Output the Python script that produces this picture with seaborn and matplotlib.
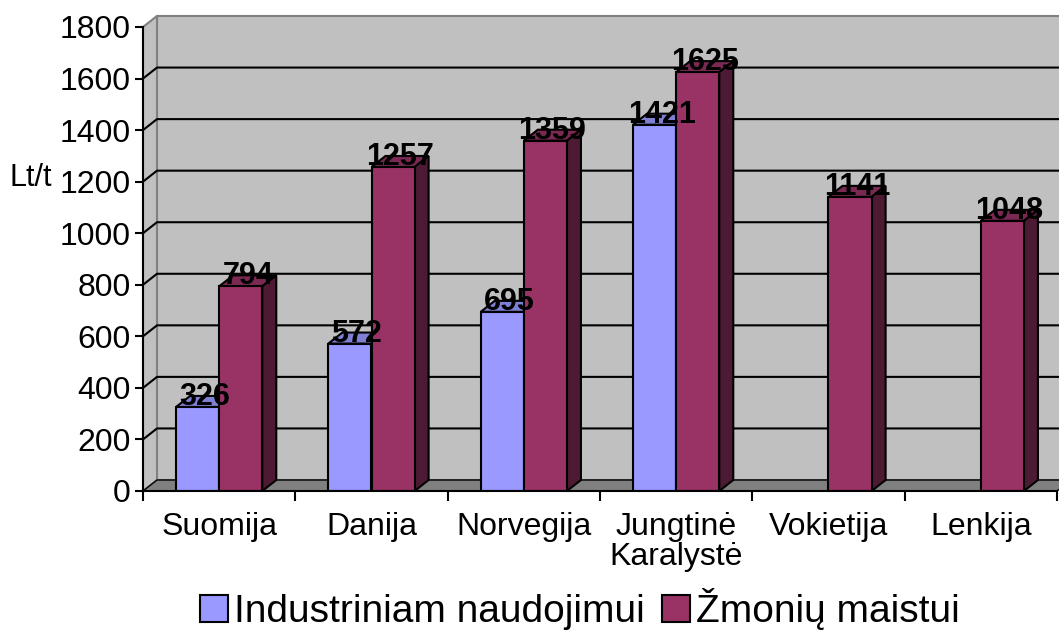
import numpy as np
import pandas as pd
import seaborn as sns
import matplotlib
matplotlib.use("Agg")
import matplotlib.pyplot as plt
from matplotlib.patches import Polygon, Patch

# data
categories = ["Suomija", "Danija", "Norvegija", "Jungtinė\nKaralystė", "Vokietija", "Lenkija"]
industrial = [326, 572, 695, 1421, np.nan, np.nan]
food = [794, 1257, 1359, 1625, 1141, 1048]
series_names = ["Industriniam naudojimui", "Žmonių maistui"]
y_ticks = [0, 200, 400, 600, 800, 1000, 1200, 1400, 1600, 1800]

front_colors = ["#9999FF", "#993366"]
top_colors = ["#7F7FD4", "#7A2952"]
side_colors = ["#4D4D80", "#4D1A33"]

df = pd.DataFrame({"Šalis": categories, series_names[0]: industrial, series_names[1]: food})
long_df = df.melt(id_vars="Šalis", var_name="serija", value_name="Lt/t").dropna()

sns.set_theme(style="white")
plt.rcParams["font.family"] = ["Liberation Sans", "DejaVu Sans"]
plt.rcParams["text.color"] = "black"
plt.rcParams["xtick.color"] = "black"
plt.rcParams["ytick.color"] = "black"
plt.rcParams["xtick.labelcolor"] = "black"
plt.rcParams["ytick.labelcolor"] = "black"

W, H = 1059, 631
fig = plt.figure(figsize=(W / 100, H / 100), dpi=100)
ax = fig.add_axes([143 / W, 1 - 491 / H, (1057 - 143) / W, (491 - 27) / H])

sns.barplot(data=long_df, x="Šalis", y="Lt/t", hue="serija", order=categories,
            hue_order=series_names, palette=front_colors, saturation=1,
            width=0.566, gap=0, edgecolor="black", linewidth=1.5,
            legend=False, ax=ax)

xmin, xmax = -0.5, len(categories) - 0.5
ymin, ymax = 0, 1800
ax.set_xlim(xmin, xmax)
ax.set_ylim(ymin, ymax)
ax.set_facecolor("none")

# depth of the pseudo 3D look, in pixels -> data units
depth_px_x, depth_px_y = 14, 11
ax_w_px = (1057 - 143)
ax_h_px = (491 - 27)
dx = depth_px_x * (xmax - xmin) / ax_w_px
dy = depth_px_y * (ymax - ymin) / ax_h_px

wall = "#C0C0C0"
wall_edge = "#808080"
# back wall
ax.add_patch(Polygon([(xmin + dx, dy), (xmax + dx, dy), (xmax + dx, ymax + dy), (xmin + dx, ymax + dy)],
                     closed=True, facecolor=wall, edgecolor=wall_edge, lw=1.5, zorder=0, clip_on=False))
# left wall
ax.add_patch(Polygon([(xmin, 0), (xmin + dx, dy), (xmin + dx, ymax + dy), (xmin, ymax)],
                     closed=True, facecolor=wall, edgecolor=wall_edge, lw=1.5, zorder=0, clip_on=False))
# floor
ax.add_patch(Polygon([(xmin, 0), (xmax, 0), (xmax + dx, dy), (xmin + dx, dy)],
                     closed=True, facecolor="#808080", edgecolor="black", lw=1.0, zorder=0.5, clip_on=False))
# gridlines on the walls
for v in y_ticks[1:-1]:
    ax.plot([xmin, xmin + dx, xmax + dx], [v, v + dy, v + dy], color="black", lw=1.5,
            zorder=0.6, clip_on=False)

# extrude bars
bars = [p for p in ax.patches if hasattr(p, "get_width") and not isinstance(p, Polygon)]
bars = [p for p in bars if np.isfinite(p.get_height()) and p.get_height() > 0]
bars.sort(key=lambda p: p.get_x())
for i, p in enumerate(bars):
    x0 = p.get_x()
    x1 = x0 + p.get_width()
    h = p.get_height()
    k = 0 if p.get_facecolor()[2] > 0.9 else 1
    z = 3 + 2 * i
    p.set_zorder(z + 1)
    ax.add_patch(Polygon([(x0, h), (x1, h), (x1 + dx, h + dy), (x0 + dx, h + dy)], closed=True,
                         facecolor=top_colors[k], edgecolor="black", lw=1.5, zorder=z, clip_on=False))
    ax.add_patch(Polygon([(x1, 0), (x1 + dx, dy), (x1 + dx, h + dy), (x1, h)], closed=True,
                         facecolor=side_colors[k], edgecolor="black", lw=1.5, zorder=z, clip_on=False))
    ax.annotate(f"{h:.0f}", xy=((x0 + x1) / 2, h), xytext=(depth_px_x / 2, 2),
                textcoords="offset pixels", ha="center", va="baseline",
                fontsize=22, fontweight="bold", color="black", zorder=200, annotation_clip=False)

# axes lines and ticks
for s in ["top", "right"]:
    ax.spines[s].set_visible(False)
for s in ["left", "bottom"]:
    ax.spines[s].set_color("black")
    ax.spines[s].set_linewidth(1.5)
    ax.spines[s].set_zorder(100)

ax.set_yticks(y_ticks)
ax.set_yticklabels([str(t) for t in y_ticks])
ax.tick_params(axis="y", which="major", direction="out", length=6, width=1.5,
               color="black", labelcolor="black", pad=3, labelsize=23, left=True)
ax.set_xticks(range(len(categories)))
ax.set_xticklabels(categories, linespacing=1.0)
ax.set_xticks(np.arange(xmin, xmax + 0.01, 1.0), minor=True)
ax.tick_params(axis="x", which="major", length=0, pad=15, labelsize=23, labelcolor="black")
ax.tick_params(axis="x", which="minor", direction="out", length=7, width=1.5,
               color="black", bottom=True)
ax.set_xlabel("")
ax.set_ylabel("")

fig.text(10 / W, 1 - 178 / H, "Lt/t", ha="left", va="center", fontsize=22, color="black")

handles = [Patch(facecolor=c, edgecolor="black", lw=1.5) for c in front_colors]
fig.legend(handles, series_names, loc="center", bbox_to_anchor=(580 / W, 1 - 609 / H),
           ncol=2, frameon=False, fontsize=28, handlelength=0.72, handleheight=0.72,
           handletextpad=0.15, columnspacing=0.45, borderpad=0, borderaxespad=0,
           labelcolor="black")

fig.savefig("out.png", dpi=100)
